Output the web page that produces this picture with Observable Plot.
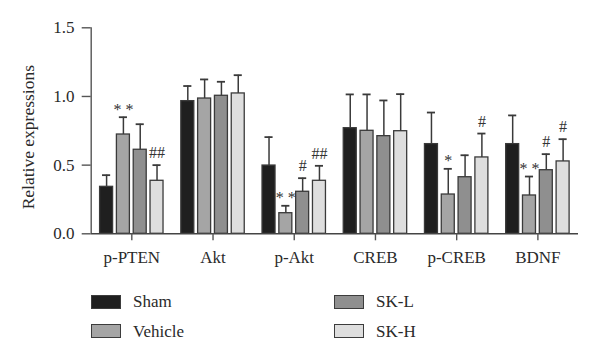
<!DOCTYPE html>
<html>
<head>
<meta charset="utf-8">
<script src="https://cdn.jsdelivr.net/npm/d3@7"></script>
<script src="https://cdn.jsdelivr.net/npm/@observablehq/plot@0.6"></script>
<style>
  body { margin: 0; background: #fff; font-family: "Liberation Serif", "Times New Roman", serif; }
  #wrap { position: relative; width: 600px; height: 360px; overflow: hidden; background: #fff; }
  #legend { position: absolute; left: 0; top: 270px; width: 600px; height: 90px; font-size: 17px; color: #2a2a2a; }
  .sw { position: absolute; width: 30px; height: 14px; box-sizing: border-box; border: 1.3px solid #3c3c3c; }
  .lb { position: absolute; line-height: 17px; white-space: nowrap; }
  #chart svg { font-family: "Liberation Serif", "Times New Roman", serif; }
  #chart g[aria-label="y-axis tick label"], #chart g[aria-label="x-axis tick label"] { font-size: 17px; }
</style>
</head>
<body>
<div id="wrap">
  <div id="chart"></div>
  <div id="legend"></div>
</div>
<script>
// ---- data ----
const categories = ["p-PTEN", "Akt", "p-Akt", "CREB", "p-CREB", "BDNF"];
const groups = ["Sham", "Vehicle", "SK-L", "SK-H"];
const groupColors = ["#1f1f1f", "#a5a5a5", "#8f8f8f", "#dedede"];

const shamMean    = [0.342, 0.966, 0.497, 0.769, 0.653, 0.653];
const vehicleMean = [0.723, 0.985, 0.150, 0.750, 0.286, 0.279];
const skLMean     = [0.612, 1.005, 0.306, 0.711, 0.412, 0.463];
const skHMean     = [0.386, 1.022, 0.386, 0.747, 0.556, 0.527];

const shamSD    = [0.085, 0.110, 0.207, 0.246, 0.230, 0.209];
const vehicleSD = [0.126, 0.139, 0.054, 0.265, 0.187, 0.138];
const skLSD     = [0.186, 0.102, 0.099, 0.260, 0.160, 0.117];
const skHSD     = [0.114, 0.133, 0.109, 0.270, 0.174, 0.162];

const shamSig    = ["", "", "", "", "", ""];
const vehicleSig = ["* *", "", "* *", "", "*", "* *"];
const skLSig     = ["", "", "#", "", "", "#"];
const skHSig     = ["##", "", "##", "", "#", "#"];

const yTicks = [0, 0.5, 1.0, 1.5];
const yLabel = "Relative expressions";

// ---- build table ----
const means = [shamMean, vehicleMean, skLMean, skHMean];
const sds = [shamSD, vehicleSD, skLSD, skHSD];
const sigs = [shamSig, vehicleSig, skLSig, skHSig];
const rows = [];
groups.forEach((g, gi) => categories.forEach((c, ci) => rows.push({
  cat: c, ci, group: g, gi, mean: means[gi][ci], sd: sds[gi][ci], top: means[gi][ci] + sds[gi][ci], sig: sigs[gi][ci]
})));

const step = 0.207, half = 0.08, cap = 0.05;
const pos = d => d.ci + (d.gi - 1.5) * step;
const ink = "#3a3a3a";

const chart = Plot.plot({
  width: 600, height: 270,
  marginLeft: 90.7, marginRight: 22, marginTop: 27.3, marginBottom: 36.7,
  style: { fontFamily: "'Liberation Serif', serif", fontSize: "17px", color: "#2a2a2a", background: "#fff", overflow: "visible" },
  x: { domain: [-0.5, categories.length - 0.5] },
  y: { domain: [0, 1.5] },
  color: { domain: groups, range: groupColors },
  marks: [
    Plot.rectY(rows, { x1: d => pos(d) - half, x2: d => pos(d) + half, y1: 0, y2: "mean", fill: "group", stroke: ink, strokeWidth: 1.3 }),
    Plot.ruleX(rows, { x: pos, y1: "mean", y2: "top", stroke: ink, strokeWidth: 1.5 }),
    Plot.ruleY(rows, { y: "top", x1: d => pos(d) - cap, x2: d => pos(d) + cap, stroke: ink, strokeWidth: 1.8 }),
    Plot.text(rows.filter(d => d.sig.includes("*")), { x: pos, y: "top", text: "sig", lineAnchor: "bottom", dy: -2.5, fontSize: 16, fill: "#333" }),
    Plot.text(rows.filter(d => d.sig.includes("#")), { x: pos, y: "top", text: "sig", lineAnchor: "bottom", dy: -7, fontSize: 16, fill: "#333" }),
    Plot.ruleY([0], { stroke: "#444", strokeWidth: 1.4 }),
    Plot.ruleX([-0.5], { y1: 0, y2: 1.5, stroke: "#555", strokeWidth: 1.4 }),
    Plot.axisY({ ticks: yTicks, tickFormat: d3.format(".1f"), tickSize: 9, tickPadding: 7.7, label: null, stroke: "#555", strokeWidth: 1.4 }),
    Plot.axisX({ ticks: d3.range(categories.length), tickFormat: i => categories[i], tickSize: 7, tickPadding: 10.6, label: null, stroke: "#555", strokeWidth: 1.4 }),
    Plot.text([yLabel], { text: d => d, frameAnchor: "left", textAnchor: "middle", rotate: -90, dx: -62.4, dy: 6.4, fontSize: 17.5, fill: "#2a2a2a" })
  ]
});
document.getElementById("chart").appendChild(chart);

// ---- legend ----
const legend = document.getElementById("legend");
const legendCols = [91, 334];
const swatchTops = [25, 54.3];
const textTops = [23.4, 52.5];
groups.forEach((g, gi) => {
  const col = gi === 0 || gi === 1 ? 0 : 1;
  const row = gi === 0 || gi === 2 ? 0 : 1;
  const sw = document.createElement("div");
  sw.className = "sw";
  sw.style.left = legendCols[col] + "px";
  sw.style.top = swatchTops[row] + "px";
  sw.style.background = groupColors[gi];
  legend.appendChild(sw);
  const lb = document.createElement("div");
  lb.className = "lb";
  lb.style.left = (legendCols[col] + 42) + "px";
  lb.style.top = textTops[row] + "px";
  lb.textContent = g;
  legend.appendChild(lb);
});
</script>
</body>
</html>
